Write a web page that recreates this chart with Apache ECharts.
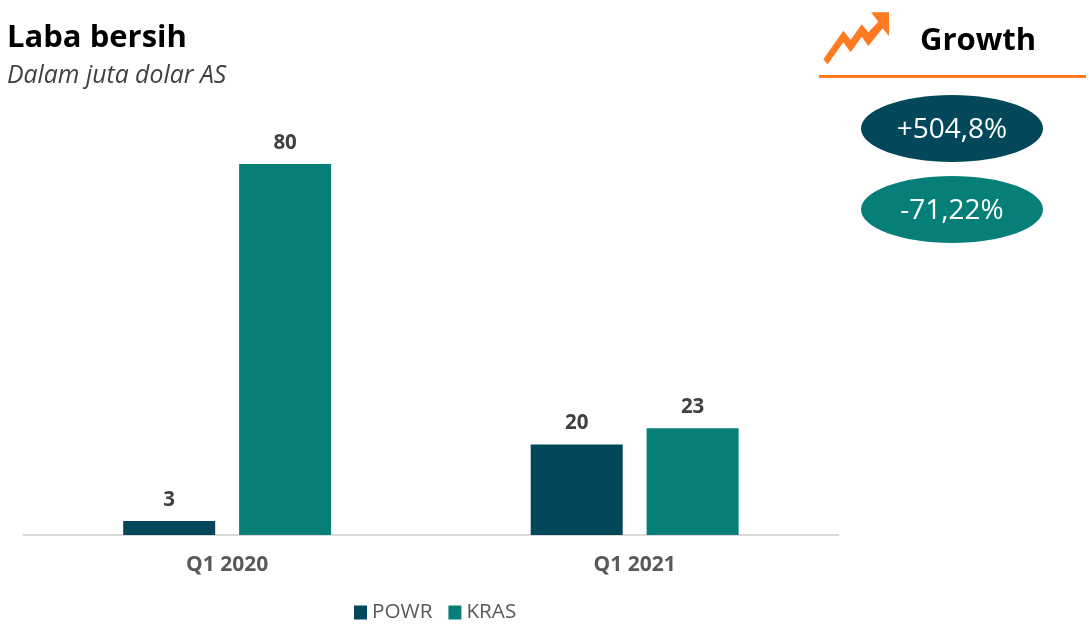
<!DOCTYPE html>
<html><head><meta charset="utf-8">
<style>html,body{margin:0;padding:0;background:#fff}#c{width:1088px;height:644px}</style>
<script src="https://cdn.jsdelivr.net/npm/echarts@6/dist/echarts.min.js"></script>
</head><body><div id="c"></div>
<script>
const categories = ['Q1 2020', 'Q1 2021'];
const powr = [3, 19.5];
const kras = [80, 23];
const FONT = '"Open Sans"';
const DARK = '#02475A', TEAL = '#067F79', ORANGE = '#FF7A21';
const chart = echarts.init(document.getElementById('c'), null, {renderer:'canvas'});
const label = {show:true, position:'top', distance:10.5, fontFamily:FONT, fontSize:20.5, fontWeight:'bold', color:'#404040',
  formatter:p => Math.round(p.value)};
const pill = (cy, fill, txt) => [
  {type:'ellipse', shape:{cx:952, cy:cy, rx:91, ry:33.5}, style:{fill:fill}},
  {type:'text', x:952, y:cy + 2, style:{text:txt, x:0, y:0, align:'center', verticalAlign:'middle', fontFamily:FONT, fontSize:28, fill:'#fff'}}
];
const arrow = [[40,178],[100,92],[122,120],[155,73],[175,97],[205,65],[183,37],[237,37],[237,108],[218,85],[175,138],[155,110],[122,157],[100,127],[53,193]]
  .map(p => [810 + p[0]/3, p[1]/3]);
chart.setOption({
  animation:false,
  backgroundColor:'#fff',
  grid:{left:23.4, width:815, top:164, height:371, containLabel:false},
  legend:{left:349, top:597, itemWidth:13, itemHeight:14, itemGap:16, icon:'rect',
    textStyle:{fontFamily:FONT, fontSize:20.7, color:'#595959', padding:[0,0,0,0]}, data:['POWR','KRAS']},
  xAxis:{type:'category', data:categories, axisTick:{show:false},
    axisLine:{lineStyle:{color:'#D9D9D9', width:2}},
    axisLabel:{fontFamily:FONT, fontSize:21, fontWeight:'bold', color:'#595959', margin:20}},
  yAxis:{type:'value', min:0, max:80, show:false, splitLine:{show:false}},
  series:[
    {name:'POWR', type:'bar', data:powr, barWidth:92, barGap:'26%', itemStyle:{color:DARK}, label:label},
    {name:'KRAS', type:'bar', data:kras, barWidth:92, itemStyle:{color:TEAL}, label:label}
  ],
  graphic:[
    {type:'text', x:7, y:38, style:{text:'Laba bersih', verticalAlign:'middle', fontFamily:FONT, fontSize:31, fontWeight:'bold', fill:'#000'}},
    {type:'text', x:7, y:76, style:{text:'Dalam juta dolar AS', verticalAlign:'middle', fontFamily:FONT, fontSize:24.8, fontStyle:'italic', fill:'#404040'}},
    {type:'polygon', shape:{points:arrow}, style:{fill:ORANGE}},
    {type:'text', x:978, y:41, style:{text:'Growth', align:'center', verticalAlign:'middle', fontFamily:FONT, fontSize:31, fontWeight:'bold', fill:'#000'}},
    {type:'rect', shape:{x:819, y:75, width:267, height:3}, style:{fill:ORANGE}},
    ...pill(128.5, DARK, '+504,8%'),
    ...pill(209.5, TEAL, '-71,22%')
  ]
});
</script></body></html>
